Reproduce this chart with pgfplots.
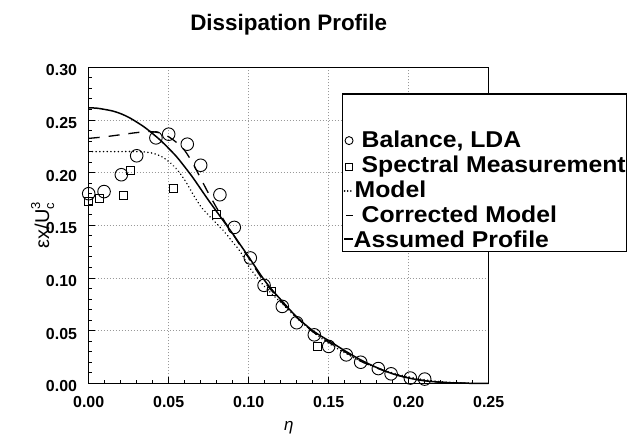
\documentclass[border=0pt]{standalone}
\usepackage{fontspec}
\setmainfont{Liberation Sans}
\newfontfamily\legfont{Liberation Sans}[FakeStretch=1.08]
\usepackage{pgfplots}
\pgfplotsset{compat=1.18}
\begin{document}
\begin{tikzpicture}
\useasboundingbox (0,0) rectangle (636bp,438bp);
\begin{axis}[
  at={(88.7bp,54.7bp)}, anchor=south west,
  scale only axis, width=400bp, height=316bp,
  xmin=0, xmax=0.25, ymin=0, ymax=0.30,
  clip=false,
  axis line style={line width=1.4bp},
  xtick={0,0.05,0.10,0.15,0.20,0.25},
  ytick={0,0.05,0.10,0.15,0.20,0.25,0.30},
  minor tick num=4,
  tick align=inside, tick pos=left,
  major tick length=6bp, minor tick length=3bp,
  every tick/.style={line width=0.8bp, black},
  grid=major,
  major grid style={line width=0.8bp, gray!80, dash pattern=on 0.8bp off 2.2bp},
  /pgf/number format/assume math mode=true,
  xticklabel style={/pgf/number format/.cd, fixed, fixed zerofill, precision=2, /tikz/.cd,
    font=\fontsize{16}{19}\selectfont\bfseries, anchor=north, inner sep=0pt, yshift=-12.5bp},
  yticklabel style={/pgf/number format/.cd, fixed, fixed zerofill, precision=2, /tikz/.cd,
    font=\fontsize{16}{19}\selectfont\bfseries, anchor=east, inner sep=0pt, xshift=-11.5bp, yshift=-3bp},
  every axis title/.style={at={(axis description cs:0.5,1)}, anchor=base, yshift=36.6bp,
    font=\fontsize{22.5}{27}\selectfont\bfseries},
  title={Dissipation Profile},
  every axis x label/.style={at={(axis description cs:0.5,0)}, anchor=center, yshift=-44.7bp,
    font=\fontsize{17}{20}\selectfont\itshape},
  xlabel={η},
  every axis y label/.style={at={(axis description cs:0,0.5)}, rotate=90, anchor=center, yshift=46bp,
    font=\fontsize{20}{24}\selectfont},
  ylabel={εx/U\rlap{\raisebox{-5bp}{\fontsize{13}{15}\selectfont c}}\raisebox{9bp}{\fontsize{13}{15}\selectfont 3}},
  legend style={at={(rel axis cs:0.6325,0.9177)}, anchor=north west,
    draw=black, line width=1.2bp, fill=white, inner xsep=1bp, inner ysep=0pt,
    column sep=7.3bp, row sep=0pt,
    font=\fontsize{23}{27}\legfont\bfseries,
    nodes={inner sep=0pt, outer sep=0pt, text height=20.85bp, text depth=4bp},
    cells={anchor=base west}},
]
% Balance, LDA (circles)
\addplot[only marks, black, mark=o, mark size=6.3bp, mark options={line width=0.9bp},
  legend image code/.code={\path[draw=none,fill=none] (0,0) rectangle (10bp,10bp);
    \draw[black, solid, line width=0.9bp] (5bp,7.3bp) circle (4bp);}]
coordinates {
(0,0.180)(0.0096,0.182)(0.0204,0.198)(0.030,0.216)(0.042,0.233)(0.050,0.2365)(0.0616,0.227)
(0.070,0.207)(0.082,0.179)(0.091,0.148)(0.101,0.119)(0.1096,0.093)(0.121,0.073)(0.130,0.0575)
(0.141,0.046)(0.150,0.035)(0.161,0.027)(0.170,0.020)(0.181,0.014)(0.189,0.009)(0.201,0.005)(0.210,0.004)
};
\addlegendentry[text height=54bp]{Balance, LDA}
% Spectral measurement (squares)
\addplot[only marks, black, mark=square, mark size=4bp, mark options={line width=0.9bp},
  legend image code/.code={\path[draw=none,fill=none] (0,0) rectangle (10bp,10bp);
    \draw[black, solid, line width=0.9bp] (1.8bp,2.8bp) rectangle (8.4bp,9.4bp);}]
coordinates {
(0,0.173)(0.0065,0.1755)(0.0216,0.1787)(0.0258,0.2024)(0.0529,0.185)(0.0796,0.160)(0.1144,0.087)(0.1429,0.0354)
};
\addlegendentry{Spectral Measurement\hspace{12bp}}
% Model (dotted)
\addplot[black, line width=1.6bp, line cap=round, dash pattern=on 0.1bp off 3.6bp, smooth,
  legend image code/.code={\path[draw=none,fill=none] (0,0) rectangle (10bp,10bp);
    \draw[black, line width=1.7bp, line cap=round, dash pattern=on 0.1bp off 3bp] (0.5bp,6.3bp) -- (9.5bp,6.3bp);}]
coordinates {
(0,0.220)(0.01,0.220)(0.02,0.220)(0.03,0.220)(0.036,0.2195)(0.041,0.218)(0.047,0.214)(0.054,0.205)
(0.060,0.193)(0.065,0.180)(0.070,0.168)(0.075,0.1595)(0.080,0.1515)(0.085,0.1435)(0.090,0.134)
(0.095,0.1245)(0.100,0.111)(0.107,0.097)(0.113,0.087)(0.120,0.077)(0.130,0.062)(0.140,0.049)
(0.150,0.038)(0.160,0.029)(0.170,0.021)(0.180,0.0148)(0.190,0.0098)(0.200,0.006)(0.210,0.0033)
(0.220,0.0015)(0.230,0.0005)(0.240,0)
};
\addlegendentry{\hspace*{-7bp}Model}
% Corrected model (dashed)
\addplot[black, line width=1.3bp, dash pattern=on 11bp off 9bp, smooth,
  legend image code/.code={\path[draw=none,fill=none] (0,0) rectangle (10bp,10bp);
    \draw[black, solid, line width=1.3bp] (2.3bp,7bp) -- (9bp,7bp);}]
coordinates {
(0,0.2325)(0.01,0.234)(0.02,0.236)(0.03,0.238)(0.038,0.239)(0.045,0.2375)(0.050,0.234)
(0.055,0.2285)(0.060,0.221)(0.065,0.209)(0.070,0.1945)(0.075,0.180)(0.080,0.1665)(0.085,0.1535)
(0.090,0.142)(0.095,0.130)(0.100,0.119)(0.105,0.107)(0.110,0.096)(0.120,0.078)(0.130,0.0625)
(0.140,0.049)(0.150,0.039)(0.160,0.030)(0.170,0.021)(0.180,0.0145)(0.190,0.009)(0.200,0.005)
(0.210,0.0025)(0.220,0.001)(0.230,0.0003)(0.240,0)
};
\addlegendentry{Corrected Model}
% Assumed profile (solid)
\addplot[black, line width=1.5bp, smooth,
  legend image code/.code={\path[draw=none,fill=none] (0,0) rectangle (10bp,10bp);
    \draw[black, solid, line width=1.5bp] (0bp,8.4bp) -- (9bp,8.4bp);}]
coordinates {
(0,0.2615)(0.005,0.2612)(0.010,0.2600)(0.015,0.2585)(0.020,0.2560)(0.025,0.2525)(0.030,0.2480)
(0.035,0.2430)(0.040,0.2370)(0.045,0.2305)(0.050,0.2230)(0.055,0.2150)(0.060,0.2055)(0.065,0.1955)
(0.070,0.1845)(0.075,0.1735)(0.080,0.1630)(0.085,0.1525)(0.090,0.1420)(0.095,0.1310)(0.100,0.1200)
(0.105,0.1085)(0.110,0.0975)(0.115,0.0880)(0.120,0.0795)(0.125,0.0710)(0.130,0.0630)(0.135,0.0562)
(0.140,0.0500)(0.145,0.0450)(0.150,0.0405)(0.160,0.0310)(0.170,0.0222)(0.180,0.0150)(0.190,0.0090)
(0.200,0.0050)(0.210,0.0024)(0.220,0.0010)(0.230,0.0003)(0.240,0)(0.250,0)
};
\addlegendentry{\hspace*{-8bp}Assumed Profile}
\end{axis}
\end{tikzpicture}
\end{document}
